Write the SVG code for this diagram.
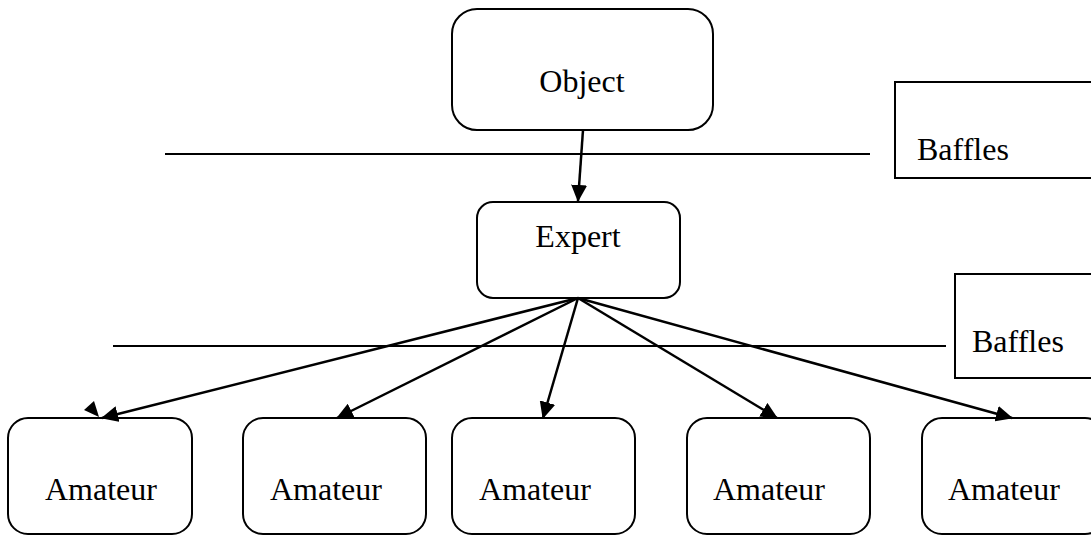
<svg xmlns="http://www.w3.org/2000/svg" width="1091" height="535" viewBox="0 0 1091 535">
<style>
.box{fill:#fff;stroke:#000;stroke-width:2}
.lbl{font-family:"Liberation Serif","Times New Roman",serif;font-size:32px;fill:#000}
.c{stroke:#000;stroke-width:2.5;fill:none}
.sep{stroke:#000;stroke-width:2}
</style>
<defs>
<marker id="ah" markerUnits="userSpaceOnUse" markerWidth="17" markerHeight="16" viewBox="0 0 17 16" refX="16" refY="8" orient="auto">
<path d="M0,0 L17,8 L0,16 Z" fill="#000"/>
</marker>
</defs>
<rect width="1091" height="535" fill="#fff"/>
<g id="separators">
<line class="sep" x1="165" y1="154" x2="870" y2="154"/>
<line class="sep" x1="113" y1="346" x2="946" y2="346"/>
</g>
<g id="baffles1">
<rect class="box" x="895" y="82" width="210" height="96"/>
<text class="lbl" x="917" y="160">Baffles</text>
</g>
<g id="baffles2">
<rect class="box" x="955" y="274" width="150" height="104"/>
<text class="lbl" x="972" y="352">Baffles</text>
</g>
<g id="object">
<rect class="box" x="452" y="9" width="261" height="121" rx="25"/>
<text class="lbl" x="582" y="92" text-anchor="middle">Object</text>
</g>
<g id="expert">
<rect class="box" x="477" y="202" width="203" height="96" rx="16"/>
<text class="lbl" x="578" y="247" text-anchor="middle">Expert</text>
</g>
<g id="amateur1">
<rect class="box" x="8" y="418" width="184" height="116" rx="20"/>
<text class="lbl" x="45" y="500">Amateur</text>
</g>
<g id="amateur2">
<rect class="box" x="243" y="418" width="183" height="116" rx="20"/>
<text class="lbl" x="270" y="500">Amateur</text>
</g>
<g id="amateur3">
<rect class="box" x="452" y="418" width="183" height="116" rx="20"/>
<text class="lbl" x="479" y="500">Amateur</text>
</g>
<g id="amateur4">
<rect class="box" x="687" y="418" width="183" height="116" rx="20"/>
<text class="lbl" x="713" y="500">Amateur</text>
</g>
<g id="amateur5">
<rect class="box" x="922" y="418" width="183" height="116" rx="20"/>
<text class="lbl" x="948" y="500">Amateur</text>
</g>
<g id="connectors">
<line class="c" x1="583" y1="130" x2="578" y2="201" marker-end="url(#ah)"/>
<line class="c" x1="578" y1="298" x2="102" y2="418" marker-end="url(#ah)"/>
<line class="c" x1="578" y1="298" x2="337" y2="418" marker-end="url(#ah)"/>
<line class="c" x1="578" y1="298" x2="543" y2="418" marker-end="url(#ah)"/>
<line class="c" x1="578" y1="298" x2="777" y2="418" marker-end="url(#ah)"/>
<line class="c" x1="578" y1="298" x2="1012" y2="418" marker-end="url(#ah)"/>
<polygon points="84,410 94,401 99,417" fill="#000"/>
</g>
</svg>
